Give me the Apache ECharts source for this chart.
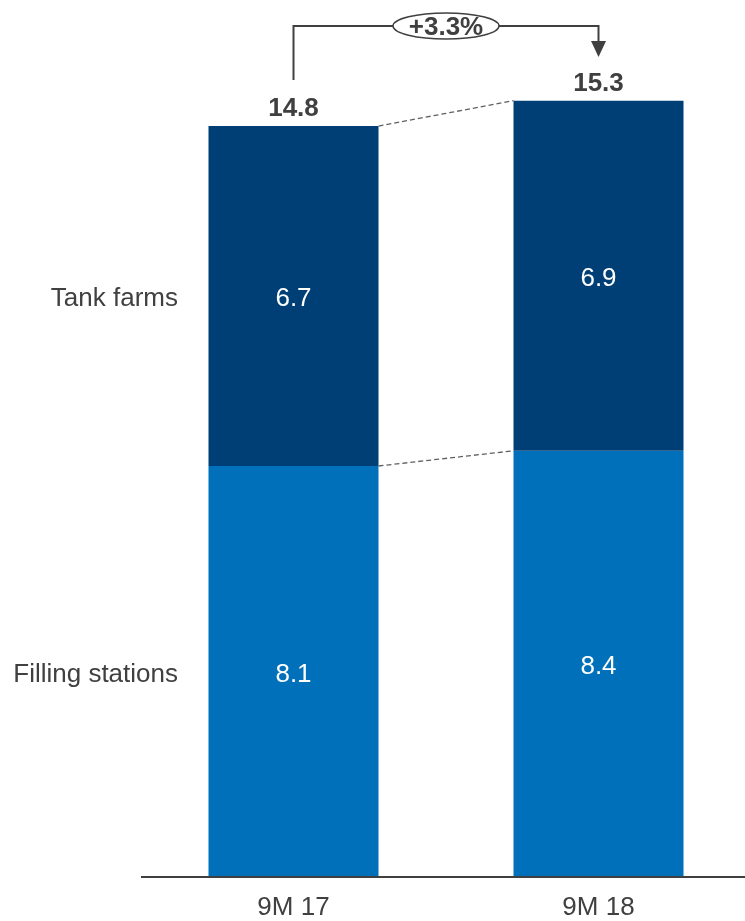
<!DOCTYPE html>
<html>
<head>
<meta charset="utf-8">
<script src="https://cdn.jsdelivr.net/npm/echarts@6/dist/echarts.min.js"></script>
<style>
  html, body { margin: 0; padding: 0; background: #fff; }
  #chart { width: 745px; height: 921px; }
</style>
</head>
<body>
<div id="chart"></div>
<script>
// Data
const periods = ['9M 17', '9M 18'];
const fillingStations = [8.1, 8.4];
const tankFarms = [6.7, 6.9];
const totals = [14.8, 15.3];
const growthLabel = '+3.3%';
const segmentNames = ['Filling stations', 'Tank farms'];

const darkBlue = '#003F75';
const lightBlue = '#0070BA';
const textGrey = '#404040';
const font = 'Liberation Sans, Arial, sans-serif';
const barWidth = 170;

let myChart = echarts.init(document.getElementById('chart'));

// baseline, connectors, growth bracket, totals and side labels
function renderOverlay(params, api) {
    const half = barWidth / 2;
    const p0Top = api.coord([0, totals[0]]);
    const p1Top = api.coord([1, totals[1]]);
    const p0Mid = api.coord([0, fillingStations[0]]);
    const p1Mid = api.coord([1, fillingStations[1]]);
    const p0Base = api.coord([0, 0]);
    const dash = { stroke: '#606060', lineWidth: 1.3, lineDash: [5, 3] };
    const line = { stroke: textGrey, lineWidth: 2 };
    const bracketY = 26;
    const midX = (p0Top[0] + p1Top[0]) / 2;
    const rx = 53, ry = 13;

    let children = [
        { type: 'line', shape: { x1: 141, y1: p0Base[1], x2: 745, y2: p0Base[1] }, style: line },
        { type: 'line', shape: { x1: p0Top[0] + half, y1: p0Top[1], x2: p1Top[0] - half, y2: p1Top[1] }, style: dash },
        { type: 'line', shape: { x1: p0Mid[0] + half, y1: p0Mid[1], x2: p1Mid[0] - half, y2: p1Mid[1] }, style: dash },
        { type: 'polyline', shape: { points: [[p0Top[0], p0Top[1] - 46], [p0Top[0], bracketY], [p1Top[0], bracketY], [p1Top[0], 44]] }, style: Object.assign({ fill: null }, line) },
        { type: 'polygon', shape: { points: [[p1Top[0] - 7.5, 41], [p1Top[0] + 7.5, 41], [p1Top[0], 57]] }, style: { fill: textGrey } },
        { type: 'ellipse', shape: { cx: midX, cy: bracketY, rx: rx, ry: ry }, style: { fill: '#fff', stroke: textGrey, lineWidth: 1.5 } },
        { type: 'text', x: midX, y: bracketY + 2, style: { text: growthLabel, fill: textGrey, font: 'bold 26px ' + font, align: 'center', verticalAlign: 'middle' } },
        { type: 'text', x: p0Top[0], y: p0Top[1] - 17, style: { text: String(totals[0]), fill: textGrey, font: 'bold 26px ' + font, align: 'center', verticalAlign: 'middle' } },
        { type: 'text', x: p1Top[0], y: p1Top[1] - 17, style: { text: String(totals[1]), fill: textGrey, font: 'bold 26px ' + font, align: 'center', verticalAlign: 'middle' } },
        { type: 'text', x: 178, y: (p0Top[1] + p0Mid[1]) / 2 + 3, style: { text: segmentNames[1], fill: textGrey, font: '26px ' + font, align: 'right', verticalAlign: 'middle' } },
        { type: 'text', x: 178, y: (p0Mid[1] + p0Base[1]) / 2 + 3, style: { text: segmentNames[0], fill: textGrey, font: '26px ' + font, align: 'right', verticalAlign: 'middle' } }
    ];
    return { type: 'group', children: children };
}

const innerLabel = {
    show: true,
    position: 'inside',
    offset: [0, 3],
    color: '#fff',
    fontSize: 26,
    fontFamily: font
};

let option = {
    backgroundColor: '#fff',
    animation: false,
    grid: { left: 293.5, right: 146.5, top: 878 - 17 * 50.8, bottom: 921 - 878 },
    xAxis: {
        type: 'category',
        data: periods,
        boundaryGap: false,
        axisTick: { show: false },
        axisLine: { show: false },
        axisLabel: { color: textGrey, fontSize: 26, fontFamily: font, margin: 18 }
    },
    yAxis: {
        type: 'value',
        min: 0,
        max: 17,
        show: false
    },
    series: [
        {
            name: segmentNames[0],
            type: 'bar',
            stack: 'total',
            barWidth: barWidth,
            clip: false,
            data: fillingStations,
            itemStyle: { color: lightBlue },
            label: innerLabel
        },
        {
            name: segmentNames[1],
            type: 'bar',
            stack: 'total',
            barWidth: barWidth,
            clip: false,
            data: tankFarms,
            itemStyle: { color: darkBlue },
            label: innerLabel
        },
        {
            type: 'custom',
            renderItem: renderOverlay,
            clip: false,
            data: [[0, 0]],
            silent: true,
            z: 10
        }
    ]
};

myChart.setOption(option, true);
</script>
</body>
</html>
